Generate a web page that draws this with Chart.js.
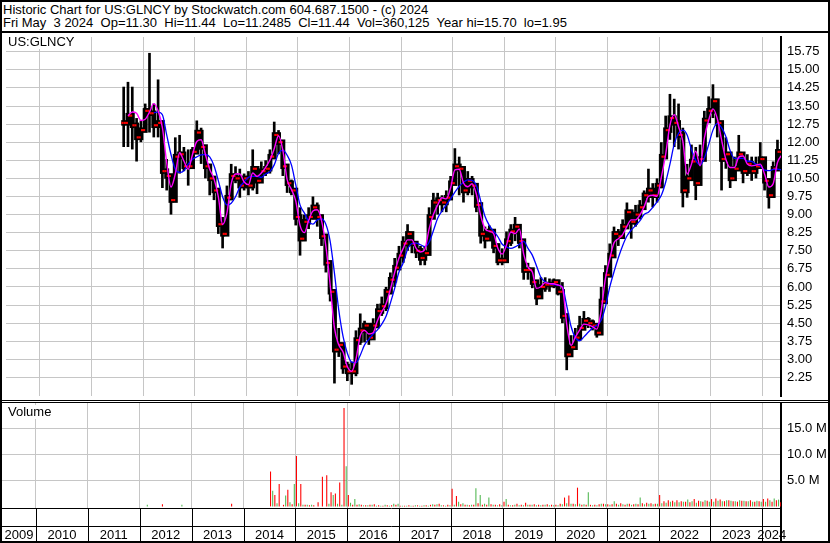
<!DOCTYPE html>
<html>
<head>
<meta charset="utf-8">
<script src="https://cdn.jsdelivr.net/npm/chart.js@4.4.0/dist/chart.umd.min.js"></script>
<style>
  html, body { margin: 0; padding: 0; background: #fff; }
  #wrap { position: relative; width: 830px; height: 543px; overflow: hidden; box-sizing: border-box;
          border: 2px solid #000; font-family: "Liberation Sans", Arial, sans-serif; color: #000; }
  .title { position: absolute; left: 1px; font-size: 13px; line-height: 13px; white-space: pre; }
  .rule { position: absolute; left: 0; width: 830px; background: #000; }
  .tag { position: absolute; background: #fff; font-size: 13px; line-height: 13px; padding: 0 3px 1px 4px; }
  canvas { position: absolute; }
</style>
</head>
<body>
<div id="wrap">
  <div class="title" style="top:1px">Historic Chart for US:GLNCY by Stockwatch.com 604.687.1500 - (c) 2024</div>
  <div class="title" style="top:14px">Fri May  3 2024  Op=11.30  Hi=11.44  Lo=11.2485  Cl=11.44  Vol=360,125  Year hi=15.70  lo=1.95</div>
  <div class="rule" style="top:29px;height:2px"></div>
  <canvas id="price" width="826" height="367" style="left:0;top:31px"></canvas>
  <div class="rule" style="top:398px;height:1px"></div>
  <div class="rule" style="top:400px;height:1px"></div>
  <canvas id="volume" width="826" height="138" style="left:0;top:401px"></canvas>
  <div class="tag" style="left:2px;top:33px">US:GLNCY</div>
  <div class="tag" style="left:2px;top:403px">Volume</div>
</div>
<script>
// monthly bars, first month is Aug 2011
const firstYear = 2011, firstMonth = 8;

const priceHigh = [
  14.3, 14.5, 14.3, 13.0, 12.9,
  13.6, 15.7, 13.6, 14.6, 12.9, 11.3, 10.5, 12.2, 12.3, 11.8, 11.7, 11.8,
  12.9, 12.6, 11.7, 11.1, 10.5, 9.9, 8.9, 10.2, 11.1, 11.0, 10.9, 10.7,
  10.8, 11.7, 10.9, 11.2, 11.25, 11.7, 12.85, 12.5, 11.9, 10.6, 10.45, 9.7,
  9.3, 9.0, 9.3, 9.75, 9.5, 9.0, 8.1, 7.0, 5.6, 4.3, 3.6, 2.9,
  2.9, 4.2, 4.9, 4.6, 4.4, 4.7, 5.3, 5.6, 6.0, 6.6, 7.2, 7.7,
  8.1, 8.6, 8.2, 7.9, 7.7, 7.7, 9.3, 9.9, 9.9, 9.8, 10.0, 10.6,
  11.75, 11.4, 10.7, 10.8, 10.6, 10.2, 8.9, 8.5, 8.55, 8.4, 7.8, 7.6,
  8.3, 8.6, 8.9, 8.5, 7.4, 7.0, 6.6, 6.0, 6.4, 6.4, 6.35, 6.35,
  6.3, 6.2, 4.6, 4.0, 4.3, 4.8, 5.0, 4.75, 4.65, 4.4, 6.0, 6.9,
  7.8, 8.5, 8.4, 8.8, 9.5, 9.2, 9.4, 9.6, 10.0, 10.9, 10.3, 10.5,
  12.0, 13.1, 14.0, 13.8, 13.6, 12.6, 11.1, 11.9, 11.8, 11.9, 13.3, 13.9,
  14.4, 13.8, 12.4, 12.2, 11.6, 11.4, 12.3, 11.4, 11.5, 11.4, 11.4, 12.0,
  11.1, 10.4, 11.2, 12.1, 11.5
];
const priceLow = [
  11.8, 11.8, 11.7, 11.2, 12.0,
  12.5, 12.4, 12.2, 12.2, 10.1, 10.0, 9.0, 10.5, 10.7, 10.8, 10.2, 11.1,
  11.9, 11.1, 10.5, 9.8, 9.6, 8.2, 7.6, 9.0, 9.8, 10.3, 9.7, 10.0,
  9.8, 10.0, 9.85, 10.4, 10.6, 10.7, 11.3, 11.5, 10.6, 9.9, 9.8, 8.55,
  7.3, 7.9, 8.4, 8.8, 8.5, 7.7, 6.6, 5.4, 2.0, 3.1, 2.4, 2.1,
  1.95, 2.3, 3.6, 3.7, 3.6, 3.9, 4.4, 4.8, 5.0, 5.8, 6.0, 6.7,
  7.0, 7.5, 7.4, 7.2, 6.9, 6.9, 7.9, 8.9, 9.0, 9.1, 9.1, 9.7,
  10.3, 9.8, 9.5, 9.8, 9.8, 9.1, 7.8, 7.6, 8.0, 7.4, 6.9, 6.9,
  7.3, 7.7, 7.9, 7.6, 6.3, 6.3, 5.95, 5.25, 5.8, 5.8, 5.8, 5.95,
  5.65, 4.5, 2.55, 3.3, 3.6, 4.0, 4.3, 4.3, 4.2, 3.9, 4.3, 5.9,
  6.8, 7.6, 7.7, 8.0, 8.5, 8.0, 8.5, 8.8, 9.2, 9.5, 9.3, 9.5,
  10.4, 11.5, 12.1, 11.8, 11.7, 9.3, 9.7, 10.7, 9.6, 10.6, 11.6, 12.8,
  13.0, 12.2, 10.0, 10.9, 10.1, 10.4, 10.9, 10.3, 10.6, 10.4, 10.5, 10.9,
  10.0, 9.25, 10.0, 11.0, 11.25
];
const priceClose = [
  12.8, 13.1, 12.7, 12.2, 12.5,
  13.3, 13.2, 12.7, 12.8, 10.8, 10.6, 9.6, 11.4, 11.5, 11.0, 11.0, 11.6,
  12.4, 11.8, 11.0, 10.5, 10.0, 8.6, 8.2, 9.7, 10.6, 10.5, 10.2, 10.5,
  10.2, 10.9, 10.4, 10.8, 10.9, 11.4, 12.3, 12.0, 11.0, 10.3, 10.0, 8.9,
  8.0, 8.7, 8.9, 9.3, 8.9, 8.1, 7.0, 5.8, 3.4, 3.6, 2.7, 2.5,
  2.5, 3.8, 4.2, 4.4, 3.9, 4.4, 5.0, 5.2, 5.8, 6.3, 6.8, 7.3,
  7.8, 8.2, 7.8, 7.5, 7.2, 7.4, 8.9, 9.5, 9.6, 9.5, 9.7, 10.3,
  11.0, 10.9, 10.0, 10.4, 10.2, 9.4, 8.2, 8.0, 8.3, 7.7, 7.1, 7.1,
  7.9, 8.3, 8.5, 7.9, 6.7, 6.7, 6.2, 5.6, 6.0, 6.1, 6.1, 6.2,
  5.8, 4.8, 3.2, 3.5, 3.9, 4.3, 4.6, 4.5, 4.4, 4.1, 5.4, 6.5,
  7.3, 8.2, 8.1, 8.5, 9.1, 8.7, 9.0, 9.3, 9.8, 10.0, 9.8, 10.2,
  11.4, 12.5, 13.0, 12.8, 12.3, 10.0, 10.5, 11.2, 10.3, 11.3, 12.9, 13.3,
  13.7, 12.8, 11.3, 11.5, 10.5, 10.9, 11.5, 10.8, 11.1, 10.8, 11.0, 11.3,
  10.4, 9.8, 10.9, 11.6, 11.44
];
// short moving average (magenta)
const avgShort = [
  null, 13.09, 13.25, 13.2, 12.9,
  12.95, 13.25, 13.6, 13.3, 12.6, 11.16, 10.14, 10.68, 11.56, 11.22, 10.88, 11.49,
  12.03, 12.1, 11.49, 10.88, 10.48, 9.74, 8.59, 9.06, 10.28, 10.68, 10.68, 10.35,
  10.24, 10.72, 10.58, 10.72, 10.96, 11.26, 11.73, 12.27, 11.67, 10.45, 10.04, 9.57,
  8.55, 8.25, 8.75, 9.15, 9.2, 8.75, 7.7, 6.1, 4.3, 3.6, 3.3, 2.7,
  2.5, 3.0, 3.97, 4.2, 4.05, 4.1, 4.6, 4.97, 5.3, 5.9, 6.6, 7.2,
  7.6, 7.95, 7.95, 7.6, 7.45, 7.55, 8.4, 9.0, 9.4, 9.7, 9.65, 10.1,
  10.85, 10.88, 10.31, 10.15, 10.28, 9.84, 8.96, 8.42, 8.31, 8.21, 7.6, 7.36,
  7.74, 8.28, 8.21, 8.4, 7.36, 6.82, 6.62, 5.94, 6.01, 6.18, 6.14, 6.13,
  6.08, 5.97, 4.46, 3.58, 3.92, 4.21, 4.46, 4.43, 4.36, 4.25, 5.0, 6.35,
  7.16, 7.83, 8.0, 8.17, 8.51, 8.78, 8.78, 8.98, 9.32, 9.76, 9.8, 9.76,
  10.55, 11.49, 12.71, 13.14, 12.64, 12.03, 10.68, 11.09, 11.63, 11.02, 12.17, 12.91,
  13.38, 12.98, 12.1, 11.29, 10.95, 10.95, 11.38, 11.43, 11.09, 11.02, 11.05, 11.09,
  10.68, 10.14, 10.28, 11.16, 11.47
];
// long moving average (blue)
const avgLong = [
  null, null, null, null, null,
  null, null, 13.22, 13.25, 13.14, 12.3, 11.49, 10.88, 10.75, 10.82, 11.09, 11.29,
  11.39, 11.47, 11.49, 11.39, 11.02, 10.41, 9.74, 9.4, 9.47, 9.74, 10.14, 10.35,
  10.54, 10.58, 10.58, 10.54, 10.68, 10.78, 11.06, 11.53, 11.67, 11.46, 11.06, 10.24,
  9.4, 9.07, 8.72, 8.6, 8.78, 8.82, 8.6, 7.9, 6.57, 5.05, 3.95, 3.25,
  2.88, 2.86, 3.17, 3.6, 3.83, 4.05, 4.22, 4.46, 4.79, 5.33, 5.94, 6.62,
  7.0, 7.56, 7.8, 7.82, 7.75, 7.67, 7.85, 8.33, 8.85, 9.14, 9.4, 9.65,
  9.93, 10.17, 10.34, 10.44, 10.42, 10.2, 9.57, 8.93, 8.55, 8.31, 8.08, 7.77,
  7.66, 7.6, 7.66, 7.77, 7.89, 7.6, 7.32, 6.86, 6.4, 6.21, 6.13, 6.1,
  6.07, 6.0, 5.23, 4.37, 3.9, 3.77, 3.93, 4.12, 4.3, 4.41, 4.62, 5.18,
  5.99, 6.63, 7.21, 7.71, 8.11, 8.36, 8.54, 8.74, 9.0, 9.1, 9.3, 9.53,
  9.8, 10.34, 11.09, 11.92, 12.37, 12.5, 12.3, 11.7, 11.25, 11.05, 11.33, 11.9,
  12.5, 12.78, 12.6, 12.24, 11.65, 11.33, 11.33, 11.33, 11.22, 11.2, 11.09, 11.02,
  10.84, 10.82, 10.87, 10.88, 10.85
];
// volume in millions, down days (red) and up days (green)
const volDown = [
  0, 0, 0, 0, 0,
  0, 0, 0, 0, 0, 0.4, 0, 0, 0, 0, 0, 0,
  0, 0, 0, 0, 0, 0, 0, 0, 0, 0.5, 0, 0,
  0, 0, 0, 0, 0, 0, 6.7, 2.2, 4.3, 0.3, 3.2, 0.4,
  9.7, 4.3, 0.3, 0.2, 0.2, 0.8, 5.7, 6.0, 2.7, 2.5, 4.6, 18.9,
  2.2, 0.3, 0.3, 0.3, 0.2, 0.3, 0.4, 0.2, 0.1, 0.2, 0.2, 0.3,
  0.1, 0.1, 0.2, 0.1, 0.2, 0.1, 0.2, 0.3, 0.3, 0.5, 0.2, 0.3,
  3.4, 2.0, 0.4, 0.3, 0.2, 0.3, 0.6, 0.3, 0.3, 0.4, 0.3, 0.4,
  0.9, 0.3, 0.2, 0.5, 0.3, 0.7, 0.3, 0.4, 0.3, 0.3, 0.4, 0.3,
  0.3, 0.5, 1.7, 2.1, 0.5, 3.6, 0.3, 0.3, 0.3, 0.3, 0.4, 0.5,
  0.4, 0.4, 0.5, 0.6, 0.3, 0.5, 0.4, 0.4, 0.6, 0.7, 0.6, 0.5,
  2.2, 1.0, 1.2, 1.1, 1.2, 1.0, 0.9, 0.8, 1.4, 1.1, 0.9, 1.1,
  1.4, 1.5, 1.3, 1.0, 1.2, 1.0, 0.9, 1.1, 1.0, 1.2, 0.9, 1.0,
  1.4, 1.5, 0.9, 1.2, 0.8
];
const volUp = [
  0, 0, 0, 0, 0,
  0, 0.3, 0, 0, 0, 0, 0, 0, 0, 0.3, 0, 0,
  0, 0, 0, 0, 0, 0, 0, 0, 0, 0, 0, 0,
  0, 0, 0, 0, 0, 0, 3.0, 0.6, 0, 2.1, 0.8, 4.3,
  0.6, 0.3, 0.3, 0.3, 0, 0, 0, 0.5, 2.2, 0.5, 0.3, 7.7,
  0.7, 1.4, 0.4, 0.2, 0.2, 0.3, 0.1, 0.1, 0.3, 0.1, 0.5, 0.5,
  0.1, 0.1, 0.1, 0.2, 0.1, 0.2, 0.1, 0.4, 0.4, 0.2, 0.1, 0.2,
  0.3, 0.9, 0.6, 0.3, 0.3, 3.5, 2.2, 0.5, 1.7, 0.3, 0.2, 0.2,
  1.4, 0.2, 0.3, 0.2, 0.2, 0.3, 0.3, 0.2, 0.2, 0.3, 0.2, 0.2,
  0.2, 0.4, 0.6, 0.5, 0.4, 0.5, 0.4, 2.7, 0.2, 0.2, 0.5, 0.4,
  0.3, 1.0, 0.3, 0.4, 0.5, 0.3, 0.5, 1.7, 0.4, 0.5, 0.4, 0.5,
  0.6, 0.7, 0.9, 0.8, 0.8, 0.9, 1.3, 1.0, 0.7, 1.0, 1.2, 0.9,
  0.9, 1.1, 1.0, 1.2, 1.1, 1.0, 1.2, 1.1, 1.0, 0.9, 1.1, 0.9,
  0.9, 1.2, 1.5, 1.3, 0.9
];

const priceTicks = [2.25, 3.00, 3.75, 4.50, 5.25, 6.00, 6.75, 7.50, 8.25, 9.00, 9.75,
                    10.50, 11.25, 12.00, 12.75, 13.50, 14.25, 15.00, 15.75];
const volumeTicks = [5, 10, 15];
const years = [2009, 2010, 2011, 2012, 2013, 2014, 2015, 2016, 2017, 2018, 2019, 2020, 2021, 2022, 2023, 2024];

// visible time window, in years
const xMin = 2009.345, xMax = 2024.36;

const GRID = '#c6c6c6';
const FONT = { family: '"Liberation Sans", Arial, sans-serif', size: 13 };

const monthTime = priceHigh.map((_, i) => {
  const m = firstMonth - 1 + i;
  return firstYear + Math.floor(m / 12) + ((m % 12) + 0.5) / 12;
});
const pts = arr => arr.map((v, i) => ({ x: monthTime[i], y: v }));
// open of a month = close of the month before
const priceOpen = priceClose.map((v, i) => (i === 0 ? v : priceClose[i - 1]));

const noPad = s => { s.paddingTop = 0; s.paddingBottom = 0; s.paddingLeft = 0; s.paddingRight = 0; };

function timeAxis(height) {
  return {
    type: 'linear', min: xMin, max: xMax, offset: false,
    afterBuildTicks: s => { s.ticks = years.filter(y => y > xMin && y < xMax).map(v => ({ value: v })); },
    ticks: { display: false },
    grid: { color: GRID, lineWidth: 1, drawTicks: false, offset: false },
    border: { display: false },
    afterFit: s => { s.height = height; noPad(s); }
  };
}

function rightAxis(min, max, ticks, fmt) {
  return {
    position: 'right', min, max,
    afterBuildTicks: s => { s.ticks = ticks.map(v => ({ value: v })); },
    ticks: { color: '#000', font: FONT, padding: 6, callback: fmt },
    grid: { color: GRID, lineWidth: 1, drawTicks: false },
    border: { display: true, color: '#000', width: 2 },
    afterFit: s => { s.width = 47; noPad(s); }
  };
}

const redTick = { type: 'scatter', pointStyle: 'rect', pointRadius: 1.5, backgroundColor: '#ff0000', borderWidth: 0, order: 2 };

new Chart(document.getElementById('price'), {
  type: 'bar',
  data: {
    datasets: [
      { type: 'line', data: pts(avgShort), borderColor: '#ff00ff', borderWidth: 1.4,
        pointRadius: 0, cubicInterpolationMode: 'monotone', order: 0 },
      { type: 'line', data: pts(avgLong), borderColor: '#0000ff', borderWidth: 1.3,
        pointRadius: 0, cubicInterpolationMode: 'monotone', order: 1 },
      { ...redTick, data: priceClose.map((v, i) => ({ x: monthTime[i] + 0.022, y: v })) },
      { ...redTick, data: priceOpen.map((v, i) => ({ x: monthTime[i] - 0.022, y: v })) },
      // high-low range
      { type: 'bar', data: priceLow.map((v, i) => ({ x: monthTime[i], y: [v, priceHigh[i]] })),
        backgroundColor: '#000', barPercentage: 0.62, categoryPercentage: 1, grouped: false, order: 3 },
      // open-close body
      { type: 'bar', data: priceOpen.map((v, i) => ({ x: monthTime[i], y: [Math.min(v, priceClose[i]) - 0.1, Math.max(v, priceClose[i]) + 0.1] })),
        backgroundColor: '#000', barPercentage: 1, categoryPercentage: 1, grouped: false, order: 3 }
    ]
  },
  options: {
    responsive: false, animation: false, events: [],
    layout: { padding: 0 },
    plugins: { legend: { display: false }, tooltip: { enabled: false } },
    scales: {
      x: timeAxis(0),
      y: rightAxis(1.48, 16.36, priceTicks, v => v.toFixed(2))
    }
  }
});

const yearRows = {
  id: 'yearRows',
  afterDraw(chart) {
    const { ctx, chartArea: a, scales: { x } } = chart;
    const top = a.bottom, mid = a.bottom + 18, bot = chart.height;
    ctx.save();
    ctx.strokeStyle = '#000';
    ctx.lineWidth = 1;
    ctx.beginPath();
    ctx.moveTo(0, top + 0.5); ctx.lineTo(a.right, top + 0.5);
    ctx.moveTo(0, mid + 0.5); ctx.lineTo(a.right, mid + 0.5);
    years.forEach(y => {
      if (y > xMin && y < xMax) {
        const px = Math.round(x.getPixelForValue(y)) + 0.5;
        ctx.moveTo(px, top); ctx.lineTo(px, bot);
      }
    });
    ctx.stroke();
    ctx.lineWidth = 2;
    ctx.beginPath(); ctx.moveTo(a.right, top); ctx.lineTo(a.right, bot); ctx.stroke();
    ctx.fillStyle = '#000';
    ctx.font = FONT.size + 'px ' + FONT.family;
    ctx.textAlign = 'center';
    ctx.textBaseline = 'middle';
    years.forEach(y => {
      const l = Math.max(y, xMin), r = Math.min(y + 1, xMax);
      if (r > l) ctx.fillText(String(y), x.getPixelForValue((l + r) / 2), mid + 9);
    });
    ctx.restore();
  }
};

new Chart(document.getElementById('volume'), {
  type: 'bar',
  data: {
    datasets: [
      { data: pts(volDown), backgroundColor: '#ff0000', barPercentage: 0.5, categoryPercentage: 1 },
      { data: pts(volUp), backgroundColor: '#52b852', barPercentage: 0.5, categoryPercentage: 1 }
    ]
  },
  options: {
    responsive: false, animation: false, events: [],
    layout: { padding: 0 },
    plugins: { legend: { display: false }, tooltip: { enabled: false } },
    scales: {
      x: timeAxis(33),
      y: rightAxis(-0.31, 19.87, volumeTicks, v => v.toFixed(1) + ' M')
    }
  },
  plugins: [yearRows]
});
</script>
</body>
</html>
